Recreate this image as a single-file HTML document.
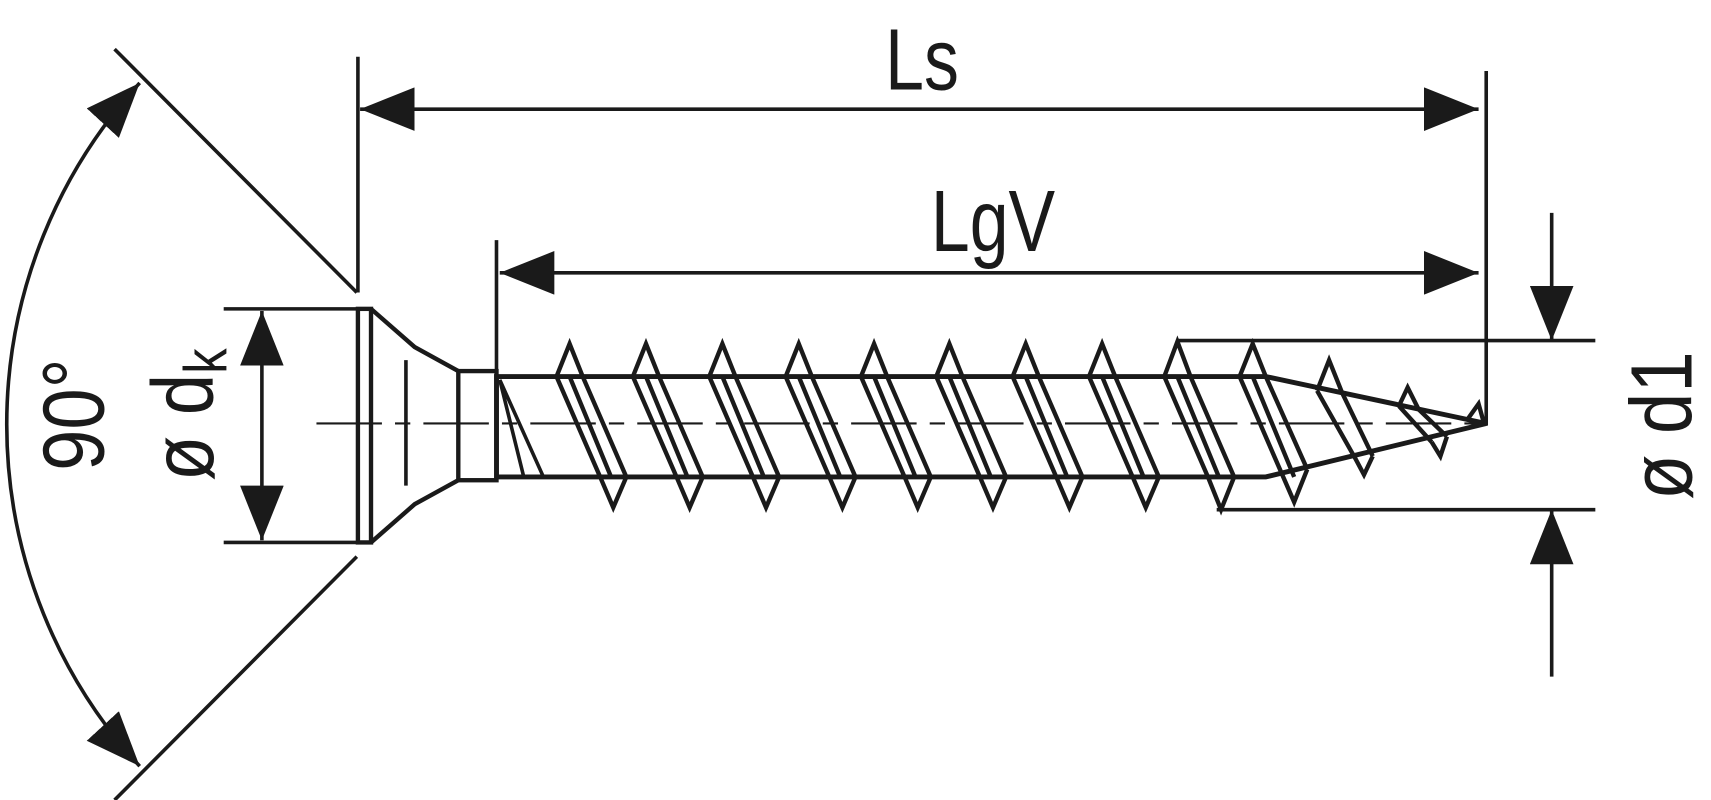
<!DOCTYPE html>
<html><head><style>html,body{margin:0;padding:0;background:#fff}svg{display:block}</style></head>
<body>
<svg width="1711" height="800" viewBox="0 0 1568 733" preserveAspectRatio="none" xmlns="http://www.w3.org/2000/svg">
<defs>
<marker id="a" viewBox="0 0 50 40" refX="50" refY="20" markerWidth="50" markerHeight="40" markerUnits="userSpaceOnUse" orient="auto-start-reverse"><path d="M0,0 L50,20 L0,40 z" fill="#1a1a1a"/></marker>
</defs>
<g stroke="#1a1a1a" stroke-width="3.3" fill="none">
<line x1="105" y1="45" x2="327" y2="268"/>
<line x1="327" y1="510" x2="105" y2="733"/>
<path d="M128,76 A463,463 0 0 0 128,702" marker-start="url(#a)" marker-end="url(#a)"/>
<line x1="328" y1="52" x2="328" y2="268"/>
<line x1="1362" y1="65" x2="1362" y2="390"/>
<line x1="455" y1="220" x2="455" y2="345"/>
<line x1="330" y1="100" x2="1355" y2="100" marker-start="url(#a)" marker-end="url(#a)"/>
<line x1="458" y1="250" x2="1355" y2="250" marker-start="url(#a)" marker-end="url(#a)"/>
<line x1="205" y1="283" x2="330" y2="283"/>
<line x1="205" y1="497" x2="330" y2="497"/>
<line x1="240" y1="285" x2="240" y2="495" marker-start="url(#a)" marker-end="url(#a)"/>
<line x1="1080" y1="312" x2="1462" y2="312"/>
<line x1="1115" y1="467" x2="1462" y2="467"/>
<line x1="1422" y1="195" x2="1422" y2="312" marker-end="url(#a)"/>
<line x1="1422" y1="620" x2="1422" y2="467" marker-end="url(#a)"/>
<line x1="290" y1="388" x2="1360" y2="388" stroke-width="2" stroke-dasharray="60,12,14,12"/>
<rect x="328" y="283" width="12" height="214" stroke-width="4"/>
<path d="M340,283 L380,318 L420,340 M340,497 L380,462 L420,440" stroke-width="4"/>
<line x1="372" y1="330" x2="372" y2="445"/>
<rect x="420" y="340" width="35" height="100" stroke-width="4"/>
<path d="M455,345 L1160,345 L1362,388 L1160,437 L455,437 Z" stroke-width="4.5"/>
<path d="M458,348 L498,437 M458,348 L480,437"/>
<g stroke-width="4">
<path d="M510,345 L522,315 L534,345 M510,345 L550,437 M534,345 L574,437 M522,345 L560,437 M550,437 L562,465 L574,437"/>
<path d="M580,345 L592,315 L604,345 M580,345 L620,437 M604,345 L644,437 M592,345 L630,437 M620,437 L632,465 L644,437"/>
<path d="M650,345 L662,315 L674,345 M650,345 L690,437 M674,345 L714,437 M662,345 L700,437 M690,437 L702,465 L714,437"/>
<path d="M720,345 L732,315 L744,345 M720,345 L760,437 M744,345 L784,437 M732,345 L770,437 M760,437 L772,465 L784,437"/>
<path d="M789,345 L801,315 L813,345 M789,345 L829,437 M813,345 L853,437 M801,345 L839,437 M829,437 L841,465 L853,437"/>
<path d="M858,345 L870,315 L882,345 M858,345 L898,437 M882,345 L922,437 M870,345 L908,437 M898,437 L910,465 L922,437"/>
<path d="M928,345 L940,315 L952,345 M928,345 L968,437 M952,345 L992,437 M940,345 L978,437 M968,437 L980,465 L992,437"/>
<path d="M998,345 L1010,315 L1022,345 M998,345 L1038,437 M1022,345 L1062,437 M1010,345 L1048,437 M1038,437 L1050,465 L1062,437"/>
<path d="M1067,345 L1079,313 L1091,345 M1067,345 L1107,437 M1091,345 L1131,437 M1079,345 L1117,437 M1107,437 L1119,467 L1131,437"/>
<path d="M1136,345 L1148,315 L1160,345 M1136,345 L1176,437 M1160,345 L1198,430 M1148,345 L1186,437 M1176,437 L1186,460 L1198,430"/>
<path d="M1207,358 L1218,330 L1230,360 M1207,358 L1242,420 M1230,360 L1258,418 M1242,420 L1250,435 L1258,418"/>
<path d="M1282,372 L1290,355 L1300,375 M1282,372 L1312,405 M1300,375 L1326,400 M1312,405 L1320,418 L1326,400"/>
<path d="M1345,384 L1355,370 L1360,388"/>
</g>
</g>
<g fill="#1a1a1a" font-family="Liberation Sans, sans-serif">
<text transform="translate(845,82) scale(0.8,1)" font-size="80" text-anchor="middle">Ls</text>
<text transform="translate(910,230) scale(0.8,1)" font-size="80" text-anchor="middle">LgV</text>
<text transform="translate(95,380) rotate(-90) scale(0.85,1)" font-size="80" text-anchor="middle">90°</text>
<text transform="translate(195,380) rotate(-90) scale(0.85,1)" font-size="80" text-anchor="middle">ø d<tspan font-size="55" dy="12">k</tspan></text>
<text transform="translate(1550,390) rotate(-90) scale(0.85,1)" font-size="80" text-anchor="middle">ø d1</text>
</g>
</svg>
</body></html>
